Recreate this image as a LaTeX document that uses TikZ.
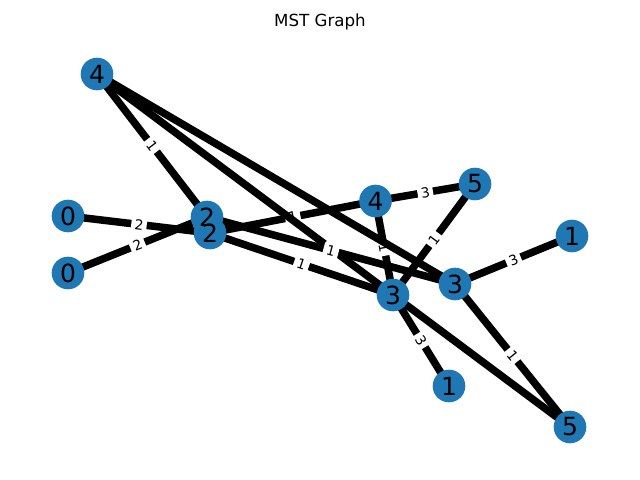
\documentclass[tikz,border=0pt]{standalone}
\usepackage{fontspec}
\setmainfont{DejaVu Sans}
\definecolor{nodeblue}{HTML}{1F77B4}
\begin{document}
\begin{tikzpicture}[x=0.72pt,y=-0.72pt,
  edge/.style={line width=5.4pt,black},
  lbl/.style={fill=white,rounded corners=2pt,inner sep=2.4pt,font=\fontsize{10}{10}\selectfont,midway,sloped},
  vert/.style={circle,fill=nodeblue,minimum size=23.5pt,inner sep=0pt},
  vtxt/.style={inner sep=0pt,font=\fontsize{18}{18}\selectfont}]
\useasboundingbox (0,0) rectangle (640,480);
\node[font=\fontsize{12}{12}\selectfont] (title) at (320,22) {MST Graph};
% positions
\coordinate (A) at (97,74);
\coordinate (B) at (68,216);
\coordinate (C) at (68,273);
\coordinate (D) at (207,217);
\coordinate (E) at (210,233);
\coordinate (F) at (375.5,201);
\coordinate (G) at (475,184);
\coordinate (H) at (572,236);
\coordinate (I) at (455,284);
\coordinate (J) at (393,295);
\coordinate (K) at (449,386);
\coordinate (L) at (570,427);
% labelled edges
\draw[edge] (A) -- (D);
\draw[edge] (B) -- (E);
\draw[edge] (C) -- (D);
\draw[edge] (E) -- (F);
\draw[edge] (E) -- (J);
\draw[edge] (F) -- (G);
\draw[edge] (G) -- (J);
\draw[edge] (F) -- (J);
\draw[edge] (I) -- (H);
\draw[edge] (I) -- (L);
\draw[edge] (J) -- (K);
% edge labels
\path (A) -- (D) node[lbl] (lAD) {1};
\path (B) -- (E) node[lbl] (lBE) {2};
\path (C) -- (D) node[lbl] (lCD) {2};
\path (E) -- (F) node[lbl] (lEF) {1};
\path (E) -- (J) node[lbl] (lEJ) {1};
\path (F) -- (G) node[lbl] (lFG) {3};
\path (G) -- (J) node[lbl] (lGJ) {1};
\path (F) -- (J) node[lbl] (lFJ) {1};
\path (I) -- (H) node[lbl] (lIH) {3};
\path (I) -- (L) node[lbl] (lIL) {1};
\path (J) -- (K) node[lbl] (lJK) {3};
% edges drawn on top
\draw[edge] (A) -- (J);
\draw[edge] (A) -- (I);
\draw[edge] (J) -- (L);
\draw[edge] (D) -- (I);
\path (D) -- (I) node[lbl] (lDI) {1};
% vertices
\foreach \p in {A,B,C,D,E,F,G,H,I,J,K,L} \node[vert] (n\p) at (\p) {};
\node[vtxt] (tA) at (A) {4};
\node[vtxt] (tB) at (B) {0};
\node[vtxt] (tC) at (C) {0};
\node[vtxt] (tD) at (D) {2};
\node[vtxt] (tE) at (E) {2};
\node[vtxt] (tF) at (F) {4};
\node[vtxt] (tG) at (G) {5};
\node[vtxt] (tH) at (H) {1};
\node[vtxt] (tI) at (I) {3};
\node[vtxt] (tJ) at (J) {3};
\node[vtxt] (tK) at (K) {1};
\node[vtxt] (tL) at (L) {5};
\end{tikzpicture}
\end{document}
